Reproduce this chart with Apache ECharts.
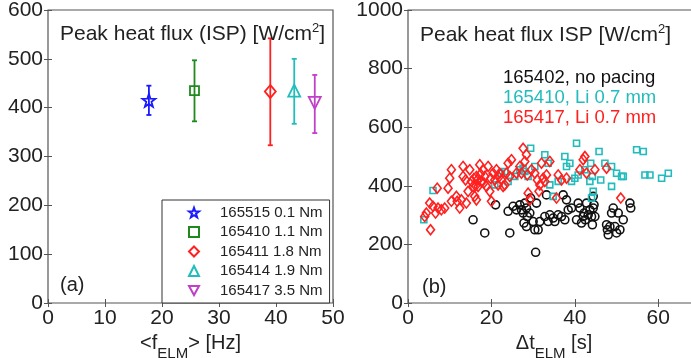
<!DOCTYPE html>
<html><head><meta charset="utf-8">
<script src="https://cdn.jsdelivr.net/npm/echarts@6/dist/echarts.min.js"></script>
<style>html,body{margin:0;padding:0;background:#fff}#c{width:691px;height:358px}</style>
</head><body><div id="c"></div>
<script>
// ---------- panel (a) data ----------
const shotNames = ['165515 0.1 Nm', '165410 1.1 Nm', '165411 1.8 Nm', '165414 1.9 Nm', '165417 3.5 Nm'];
const freqHz   = [17.7, 25.7, 39.0, 43.2, 46.8];
const fluxMean = [415, 435, 433, 435, 410];
const fluxLow  = [385, 372, 323, 367, 348];
const fluxHigh = [445, 497, 542, 500, 467];
const xTicksA = [0, 10, 20, 30, 40, 50];
const yTicksA = [0, 100, 200, 300, 400, 500, 600];

// ---------- panel (b) data : [dt, peak flux] ----------
const noPacing165402 = [
 [15.6,284],[18.4,239],[21,335],[24,313],[24.4,239],[25.2,330],[26,318],[26.8,335],[27.2,318],[27.6,307],
 [28,341],[28.4,324],[28.6,295],[27.8,273],[28.4,261],[29.2,307],[29.4,358],[30,278],[30.4,250],[30.6,173],
 [30.8,341],[31.2,250],[31.6,278],[32.8,295],[33.2,369],[33.6,278],[34,301],[34.8,290],[35.2,278],[36,301],
 [36.8,295],[37.2,369],[37.6,284],[38,352],[38.4,318],[39.2,324],[40.4,284],[40.8,341],[41.2,324],[41.6,273],
 [42,295],[42.2,307],[42.5,284],[42.8,341],[43.2,301],[43.6,318],[44,295],[44.4,364],[44.6,335],[44.8,295],
 [44.2,267],[44.4,324],[47.6,267],[47.8,250],[48,233],[48.4,261],[48.8,307],[49.2,324],[49.6,261],[50.4,307],
 [50.8,250],[50,239],[51.6,284],[53.2,341],[53.4,324]
];
const li165410 = [
 [3.8,284],[6,384],[20.8,403],[22.4,443],[23.2,449],[24,415],[25.6,432],[26.8,455],[27.6,460],[28,449],
 [28.8,432],[29.4,528],[30.4,466],[32.8,506],[33.6,477],[34,403],[34.8,364],[36,415],[37.6,500],[38,466],
 [38.8,477],[39.2,415],[40,426],[40.4,545],[40.8,437],[42.4,455],[43.6,415],[43.8,477],[44.2,432],[44.4,381],
 [44,358],[45.8,517],[46.2,420],[47.2,477],[48.8,466],[48.8,398],[50,443],[51.2,432],[51.6,432],[54.8,523],
 [56.4,517],[56.8,437],[58,437],[60.8,426],[62.4,443]
];
const li165417 = [
 [4,295],[4.4,307],[5.4,250],[5.2,341],[6,330],[7,392],[6.6,307],[7.2,324],[8,318],[8.8,324],
 [9.6,392],[10,426],[10.4,455],[10.4,347],[11.6,364],[11.8,347],[12.4,324],[12.8,352],[13.2,466],[13.2,432],
 [13.8,420],[14,341],[14.4,381],[14.8,455],[15.2,415],[15.6,398],[16,364],[16.4,432],[16.4,352],[16.8,398],
 [17.2,472],[17.6,415],[18,455],[18.4,432],[18.8,398],[19.2,466],[19.6,381],[20,347],[20.4,443],[20.8,420],
 [21.2,455],[21.6,403],[22,443],[22.4,420],[22.8,398],[23.2,403],[23.6,443],[24,477],[24.4,432],[24.8,489],
 [26,443],[26.8,466],[27.2,443],[27.6,528],[28,483],[28.4,506],[28.6,437],[28.8,375],[29.2,352],[29.6,455],
 [30.4,443],[31,420],[31.4,381],[31.6,403],[32,477],[32.4,426],[32.8,415],[33.2,437],[34,483],[35.6,358],
 [36,437],[36.8,420],[38,426],[41.2,455],[42,489],[42.4,500],[42.8,443],[44.8,455],[47.6,460],[51,358],
 [16.6,420],[17.4,440],[15.8,425],[19.8,425],[21.8,430],[16.2,400],[18.2,410]
];
const seriesBNames = ['165402, no pacing', '165410, Li 0.7 mm', '165417, Li 0.7 mm'];

// ---------- styles ----------
const FONT = 'Liberation Sans, Arial, Helvetica, sans-serif';
const colorsA = ['#1a1aff', '#1e8a1e', '#ff2020', '#22bcbc', '#c040c8'];
const colorsB = ['#111111', '#22bcbc', '#ff2020'];
const starPath = 'path://M0,-10 L2.35,-3.24 L9.51,-3.09 L3.8,1.24 L5.88,8.09 L0,4 L-5.88,8.09 L-3.8,1.24 L-9.51,-3.09 L-2.35,-3.24 Z';
const downTri = 'path://M-6,-5 L6,-5 L0,6 Z';
const symbolsA = [starPath, 'rect', 'diamond', 'triangle', downTri];
const sizesA = [13, 9, [11, 13], 12, 12];

const axisLabelStyle = { fontSize: 21, color: '#222', fontFamily: FONT, formatter: v => String(v) };
const tickStyle = { show: true, inside: true, length: 4, lineStyle: { color: '#555', width: 1 } };

function mainAxis(extra) {
  return Object.assign({
    type: 'value', axisLine: { show: false }, splitLine: { show: false },
    axisTick: tickStyle, axisLabel: Object.assign({ margin: 5 }, axisLabelStyle)
  }, extra);
}
function boxAxis(extra) {
  return Object.assign({
    type: 'value', axisLine: { show: false }, splitLine: { show: false },
    axisTick: tickStyle, axisLabel: { show: false }
  }, extra);
}

const series = [];
// error bars (panel a)
series.push({
  type: 'custom', xAxisIndex: 0, yAxisIndex: 0, z: 2,
  data: freqHz.map((x, i) => [x, fluxLow[i], fluxHigh[i], i]),
  renderItem: function (params, api) {
    const x = api.value(0), lo = api.value(1), hi = api.value(2), idx = api.value(3);
    const p1 = api.coord([x, lo]), p2 = api.coord([x, hi]);
    const c = colorsA[idx], w = 2.5;
    const st = { stroke: c, lineWidth: 1.8 };
    return { type: 'group', children: [
      { type: 'line', shape: { x1: p1[0], y1: p1[1], x2: p2[0], y2: p2[1] }, style: st },
      { type: 'line', shape: { x1: p1[0] - w, y1: p1[1], x2: p1[0] + w, y2: p1[1] }, style: st },
      { type: 'line', shape: { x1: p2[0] - w, y1: p2[1], x2: p2[0] + w, y2: p2[1] }, style: st }
    ]};
  }
});
shotNames.forEach((name, i) => {
  series.push({
    type: 'scatter', name: name, xAxisIndex: 0, yAxisIndex: 0, z: 3,
    symbol: symbolsA[i], symbolSize: sizesA[i],
    itemStyle: { color: 'rgba(255,255,255,0)', borderColor: colorsA[i], borderWidth: 1.8, opacity: 1 },
    data: [[freqHz[i], fluxMean[i]]]
  });
});
const dataB = [noPacing165402, li165410, li165417];
const symB = ['circle', 'rect', 'diamond'];
const sizeB = [8, 6, [8, 10]];
dataB.forEach((d, i) => {
  series.push({
    type: 'scatter', name: seriesBNames[i], xAxisIndex: 2, yAxisIndex: 2, z: 3 + i,
    symbol: symB[i], symbolSize: sizeB[i],
    itemStyle: { color: 'rgba(255,255,255,0)', borderColor: colorsB[i], borderWidth: 1.6, opacity: 1 },
    data: d
  });
});

const nameStyle = { fontSize: 20, color: '#222', fontFamily: FONT,
  rich: { sub: { fontSize: 15, padding: [19, 0, 0, 0], color: '#222', fontFamily: FONT } } };
const titleStyle = { fontSize: 21, fontWeight: 'normal', color: '#222', fontFamily: FONT,
  rich: { sup: { fontSize: 13, padding: [0, 0, 11, 0], color: '#222', fontFamily: FONT } } };

const option = {
  animation: false,
  backgroundColor: '#fff',
  textStyle: { fontFamily: FONT },
  grid: [
    { left: 48, right: 358, top: 10, bottom: 55, show: true, borderColor: '#555', borderWidth: 1.2,
      backgroundColor: 'transparent', containLabel: false, outerBoundsMode: 'none' },
    { left: 408, right: -9, top: 10, bottom: 55, show: true, borderColor: '#555', borderWidth: 1.2,
      backgroundColor: 'transparent', containLabel: false, outerBoundsMode: 'none' }
  ],
  xAxis: [
    mainAxis({ gridIndex: 0, min: 0, max: 50, interval: 10,
      name: '<f{sub|ELM}> [Hz]', nameLocation: 'middle', nameGap: 16, nameTextStyle: nameStyle }),
    boxAxis({ gridIndex: 0, min: 0, max: 50, interval: 10, position: 'top' }),
    mainAxis({ gridIndex: 1, min: 0, max: 70, interval: 20,
      axisLabel: Object.assign({ margin: 5, showMaxLabel: false }, axisLabelStyle),
      name: 'Δt{sub|ELM} [s]', nameLocation: 'middle', nameGap: 16, nameTextStyle: nameStyle }),
    boxAxis({ gridIndex: 1, min: 0, max: 70, interval: 20, position: 'top' })
  ],
  yAxis: [
    mainAxis({ gridIndex: 0, min: 0, max: 600, interval: 100 }),
    boxAxis({ gridIndex: 0, min: 0, max: 600, interval: 100, position: 'right' }),
    mainAxis({ gridIndex: 1, min: 0, max: 1000, interval: 200 }),
    boxAxis({ gridIndex: 1, min: 0, max: 1000, interval: 200, position: 'right' })
  ],
  legend: {
    data: shotNames, orient: 'vertical', left: 162, top: 200,
    backgroundColor: '#fff', borderColor: '#333', borderWidth: 1,
    padding: [5, 7, 5, 26], itemGap: 4.5, itemWidth: 10, itemHeight: 10,
    selectedMode: false,
    textStyle: { fontSize: 15, color: '#222', fontFamily: FONT, lineHeight: 14, padding: [0, 0, 0, 16] }
  },
  title: [
    { text: 'Peak heat flux (ISP) [W/cm{sup|2}]', left: 60, top: 22, padding: 0, textStyle: titleStyle },
    { text: '(a)', left: 60, top: 275, padding: 0, textStyle: { fontSize: 20, fontWeight: 'normal', color: '#222', fontFamily: FONT } },
    { text: 'Peak heat flux ISP [W/cm{sup|2}]', left: 420, top: 23, padding: 0, textStyle: titleStyle },
    { text: seriesBNames[0], left: 503, top: 68, padding: 0, textStyle: { fontSize: 18.5, fontWeight: 'normal', color: colorsB[0], fontFamily: FONT } },
    { text: seriesBNames[1], left: 503, top: 88, padding: 0, textStyle: { fontSize: 18.5, fontWeight: 'normal', color: colorsB[1], fontFamily: FONT } },
    { text: seriesBNames[2], left: 503, top: 108, padding: 0, textStyle: { fontSize: 18.5, fontWeight: 'normal', color: colorsB[2], fontFamily: FONT } },
    { text: '(b)', left: 422, top: 277, padding: 0, textStyle: { fontSize: 20, fontWeight: 'normal', color: '#222', fontFamily: FONT } }
  ],
  series: series
};
const chart = echarts.init(document.getElementById('c'), null, { renderer: 'canvas' });
chart.setOption(option);
</script>
</body></html>
